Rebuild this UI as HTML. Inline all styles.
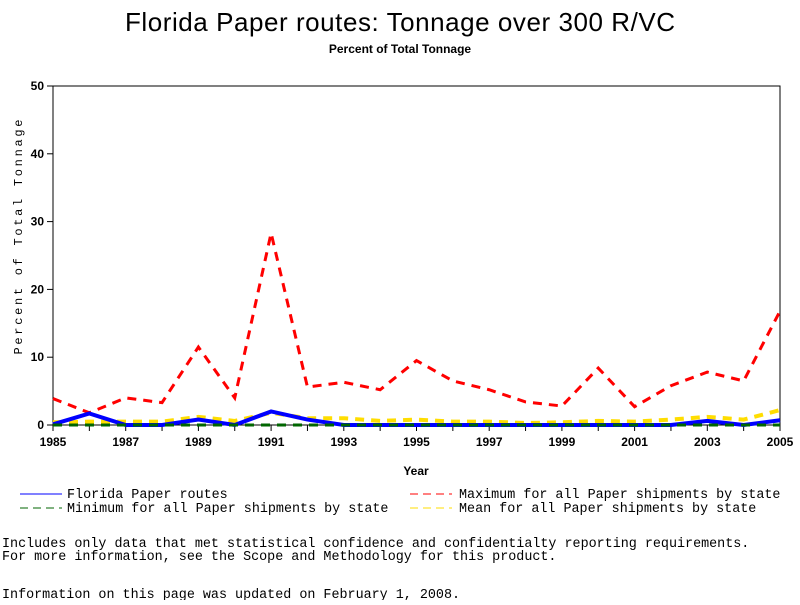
<!DOCTYPE html>
<html><head><meta charset="utf-8"><style>
body{margin:0;background:#fff;width:800px;height:600px;overflow:hidden}
svg text{font-family:"Liberation Sans",sans-serif}
.mono{font-family:"Liberation Mono",monospace;font-size:13.4px}
</style></head><body>
<svg id="c" width="800" height="600">
<text x="400" y="31" text-anchor="middle" font-size="26" textLength="550">Florida Paper routes: Tonnage over 300 R/VC</text>
<text x="400" y="53" text-anchor="middle" font-size="12" font-weight="bold">Percent of Total Tonnage</text>
<text transform="translate(22,237) rotate(-90)" text-anchor="middle" class="mono" style="font-size:12px" textLength="235">Percent of Total Tonnage</text>
<text x="416" y="475" text-anchor="middle" font-size="12" font-weight="bold">Year</text>
<rect x="53" y="86" width="727" height="339" fill="none" stroke="#000"/>
<g id="axes"></g><g id="series"></g>
<g>
<line x1="20" y1="494" x2="62" y2="494" stroke="#00f"/>
<text x="67" y="498" class="mono">Florida Paper routes</text>
<line x1="20" y1="508" x2="62" y2="508" stroke="#060" stroke-dasharray="8,5"/>
<text x="67" y="512" class="mono">Minimum for all Paper shipments by state</text>
<line x1="410" y1="494" x2="452" y2="494" stroke="#f00" stroke-dasharray="8,5"/>
<text x="459" y="498" class="mono">Maximum for all Paper shipments by state</text>
<line x1="410" y1="508" x2="452" y2="508" stroke="#fd0" stroke-dasharray="8,5"/>
<text x="459" y="512" class="mono">Mean for all Paper shipments by state</text>
</g>
<text x="2" y="547" class="mono">Includes only data that met statistical confidence and confidentialty reporting requirements.</text>
<text x="2" y="560" class="mono">For more information, see the Scope and Methodology for this product.</text>
<text x="2" y="598" class="mono">Information on this page was updated on February 1, 2008.</text>
</svg>
<script>
const years=[1985,1986,1987,1988,1989,1990,1991,1992,1993,1994,1995,1996,1997,1998,1999,2000,2001,2002,2003,2004,2005];
const florida=[0.1,1.7,0,0,0.8,0,2.0,0.8,0,0,0,0,0,0,0,0,0,0,0.6,0,0.7];
const maxVals=[3.9,1.8,4.0,3.3,11.5,4.0,28.3,5.6,6.3,5.2,9.5,6.5,5.2,3.4,2.8,8.4,2.7,5.8,7.8,6.5,16.8];
const minVals=[0,0,0,0,0,0,0,0,0,0,0,0,0,0,0,0,0,0,0,0,0];
const meanVals=[0.4,0.5,0.5,0.5,1.2,0.6,1.8,1.0,1.0,0.6,0.8,0.5,0.5,0.3,0.4,0.6,0.5,0.8,1.2,0.8,2.2];
const yTicks=[0,10,20,30,40,50];
const xTickLabels=[1985,1987,1989,1991,1993,1995,1997,1999,2001,2003,2005];
const NS='http://www.w3.org/2000/svg';
const X=v=>53+(v-1985)*727/20, Y=v=>425-v*339/50;
const ax=document.getElementById('axes'), sg=document.getElementById('series');
function mk(tag,at,par){const e=document.createElementNS(NS,tag);for(const k in at)e.setAttribute(k,at[k]);par.appendChild(e);return e;}
yTicks.forEach(t=>{
 const l=mk('line',{x1:47,x2:53,y1:Y(t),y2:Y(t),stroke:'#000'},ax);
 
 
 const tx=mk('text',{x:44,y:Y(t)+4,'text-anchor':'end','font-size':12,'font-weight':'bold'},ax);tx.textContent=t;
 
 
});
years.forEach(y=>{
 const l=mk('line',{x1:X(y),x2:X(y),y1:425,y2:431,stroke:'#000'},ax);
 
 
});
xTickLabels.forEach(y=>{
 const tx=mk('text',{x:X(y),y:446,'text-anchor':'middle','font-size':12,'font-weight':'bold'},ax);tx.textContent=y;
 
 
});
function line(vals,color,dash,w,name){
 const p=mk('polyline',{points:vals.map((v,i)=>X(years[i])+','+Y(v)).join(' '),fill:'none',stroke:color,'stroke-width':w,'stroke-dasharray':dash},sg);
 
 
}
line(maxVals,'#f00','9,7',3,'max-series');
line(meanVals,'#fd0','9,7',4,'mean-series');
line(florida,'#00f','none',4,'florida-series');
line(minVals,'#060','9,7',3,'min-series');
</script>
</body></html>
